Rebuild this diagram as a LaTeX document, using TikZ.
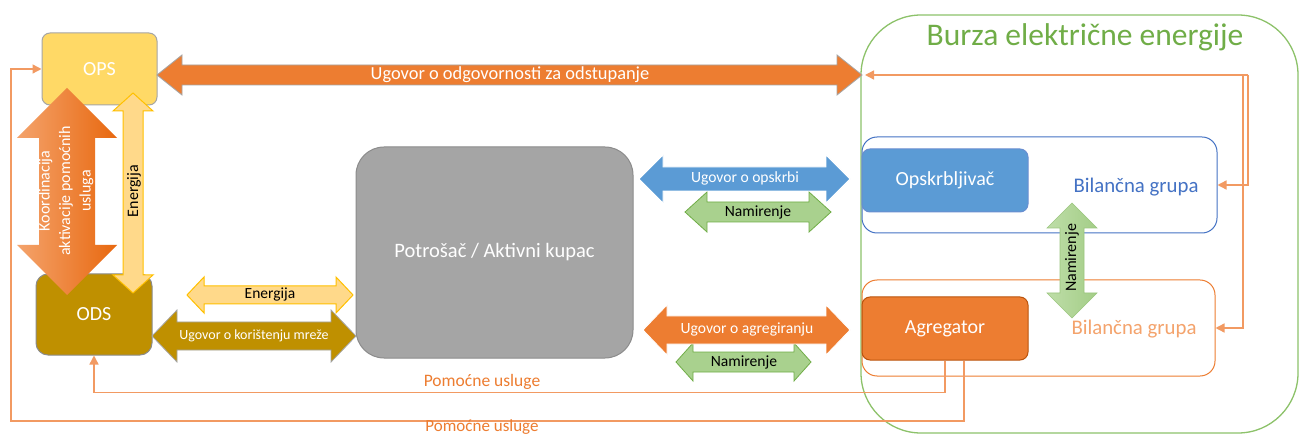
\documentclass[tikz,border=0pt]{standalone}
\usepackage{fontspec}
\setmainfont{Carlito}
\usetikzlibrary{arrows.meta,calc}
\definecolor{opsY}{HTML}{FFD966}
\definecolor{odsG}{HTML}{BF9000}
\definecolor{oran}{HTML}{ED7D31}
\definecolor{oranL}{HTML}{F4A36C}
\definecolor{oranD}{HTML}{E8680F}
\definecolor{blu}{HTML}{5B9BD5}
\definecolor{bluD}{HTML}{4472C4}
\definecolor{grnF}{HTML}{A9D18E}
\definecolor{grnL}{HTML}{BEDDA8}
\definecolor{grnD}{HTML}{70AD47}
\definecolor{burzaG}{HTML}{8DC26A}
\definecolor{enF}{HTML}{FFD98A}
\definecolor{enB}{HTML}{FFC000}
\definecolor{gryF}{HTML}{A5A5A5}
\definecolor{gryB}{HTML}{8C8C8C}
\definecolor{thinO}{HTML}{F29A62}
\newcommand\fs[1]{\fontsize{#1}{#1}\selectfont}
% horizontal double block arrow: style, x1, x2, yc, headhalf, shafthalf, headlen
\newcommand\hda[7]{\path[#1] (#2,#4) -- ({#2+#7},{#4-#5}) -- ({#2+#7},{#4-#6}) -- ({#3-#7},{#4-#6}) -- ({#3-#7},{#4-#5}) -- (#3,#4) -- ({#3-#7},{#4+#5}) -- ({#3-#7},{#4+#6}) -- ({#2+#7},{#4+#6}) -- ({#2+#7},{#4+#5}) -- cycle;}
% vertical double block arrow: style, xc, y1, y2, headhalf, shafthalf, headlen
\newcommand\vda[7]{\path[#1] (#2,#3) -- ({#2+#5},{#3+#7}) -- ({#2+#6},{#3+#7}) -- ({#2+#6},{#4-#7}) -- ({#2+#5},{#4-#7}) -- (#2,#4) -- ({#2-#5},{#4-#7}) -- ({#2-#6},{#4-#7}) -- ({#2-#6},{#3+#7}) -- ({#2-#5},{#3+#7}) -- cycle;}
\tikzset{
  box/.style={draw=gryB, line width=1pt, rounded corners=8pt, inner sep=0pt, text=white, font=\fs{20}},
  thinline/.style={draw=thinO, line width=1.4pt},
  tip/.style={-{Triangle[length=9pt,width=9pt]}},
  lbl/.style={inner sep=0pt, font=\fs{15.6}},
}
\begin{document}
\begin{tikzpicture}[x=1pt,y=-1pt]
\path[fill=white] (0,0) rectangle (1300,435);
\useasboundingbox (0,0) rectangle (1300,435);

% Burza frame
\draw[burzaG, line width=1.3pt, rounded corners=60pt] (861,15) rectangle (1298,433);
\node[text=grnD, font=\fs{31.5}, inner sep=0pt] (title) at (1085,37) {Burza električne energije};

% Bilancne grupe
\node[draw=bluD, line width=1pt, rounded corners=15pt, minimum width=355pt, minimum height=96pt, inner sep=0pt] (bg1) at (1039.5,185) {};
\node[draw=oran, line width=1pt, rounded corners=15pt, minimum width=353pt, minimum height=96pt, inner sep=0pt] (bg2) at (1038.5,328) {};
\node[text=bluD, font=\fs{20.8}, inner sep=0pt] (bgt1) at (1136,187) {Bilančna grupa};
\node[text=oranL, font=\fs{20.8}, inner sep=0pt] (bgt2) at (1134,329) {Bilančna grupa};

% boxes
\node[box, fill=opsY, draw=gryF, minimum width=115pt, minimum height=72pt] (ops) at (99.5,69) {OPS};
\node[box, fill=odsG, minimum width=116pt, minimum height=81pt, rounded corners=12pt] (ods) at (94,314.5) {ODS};
\node[box, fill=gryF, minimum width=277pt, minimum height=211pt, rounded corners=28pt, font=\fs{20.5}] (pot) at (494.5,252.5) {Potrošač / Aktivni kupac};
\node[box, fill=blu, draw=bluD!80, minimum width=166pt, minimum height=63pt] (ops2) at (945,180.5) {Opskrbljivač};
\node[box, fill=oran, draw=oranD!80!black, minimum width=166pt, minimum height=63pt] (agr) at (945,328.5) {Agregator};

% big block arrows
\hda{fill=oran, draw=gryF, line width=0.8pt}{157}{862}{75}{20}{10}{25}
\node[lbl, text=white, font=\fs{18.4}] (lTop) at (510,75) {Ugovor o odgovornosti za odstupanje};

\vda{left color=oranL, right color=oranD, draw=none}{67}{88}{295}{50}{28}{50}
\node[lbl, text=white, font=\fontsize{16}{20.5}\selectfont, rotate=90, align=center] (lKoor) at (66,191) {Koordinacija\\aktivacije pomoćnih\\usluga};

\vda{fill=enF, draw=enB, line width=1pt}{133}{93}{293}{20}{10}{18}
\node[lbl, text=black, font=\fs{16}, rotate=90] (lEn1) at (134,191) {Energija};

\hda{fill=enF, draw=enB, line width=1pt}{187}{353}{295}{18}{9}{17}
\node[lbl, text=black, font=\fs{15.5}] (lEn2) at (270,295) {Energija};

\hda{fill=odsG, draw=gryF, line width=0.8pt}{152}{356}{336}{26}{14}{25}
\node[lbl, text=white, font=\fs{14}] (lKor) at (254,336) {Ugovor o korištenju mreže};

\hda{fill=grnF, draw=grnD, line width=0.8pt}{685}{831}{212}{20}{10}{22}
\node[lbl, text=black] (lNam1) at (758,212) {Namirenje};

\hda{fill=blu, draw=white, line width=0.8pt}{639}{850}{179}{24}{12}{24}
\node[lbl, text=white] (lOps) at (745,178) {Ugovor o opskrbi};

\hda{fill=grnF, draw=grnD, line width=0.8pt}{676}{811}{362}{19}{10}{17}
\node[lbl, text=black] (lNam2) at (744,362) {Namirenje};

\hda{fill=oran, draw=white, line width=0.8pt}{643}{850}{330}{25}{14}{24}
\node[lbl, text=white] (lAgr) at (747,329) {Ugovor o agregiranju};

\vda{left color=grnL, right color=grnF!90!grnD, draw=grnD!70, line width=0.6pt}{1072}{203}{318}{25}{12}{25}
\node[lbl, text=black, font=\fs{16}, rotate=90] (lNam3) at (1072,258) {Namirenje};

% thin connectors on the right
\coordinate (bzIn) at (865,75);
\draw[thinline, tip] (1248,75) |- (bg1.east);
\draw[thinline] (1248,75) -- (1243,75);
\draw[thinline, tip] (1243,75) -- (bzIn);
\draw[thinline, tip] (1243,75) |- (bg2.east);

% Pomocne usluge connectors
\draw[thinline, tip] (agr.south) -- ++(0,32) -| (ods.south);
\node[lbl, text=oran, font=\fs{17.5}] (lPom1) at (482,382) {Pomoćne usluge};
\coordinate (leftc) at (11,421);
\draw[thinline, tip] ([xshift=19pt]agr.south) |- (leftc) |- (ops.west);
\node[lbl, text=oran, font=\fs{17}] (lPom2) at (482,427) {Pomoćne usluge};
\end{tikzpicture}
\end{document}
